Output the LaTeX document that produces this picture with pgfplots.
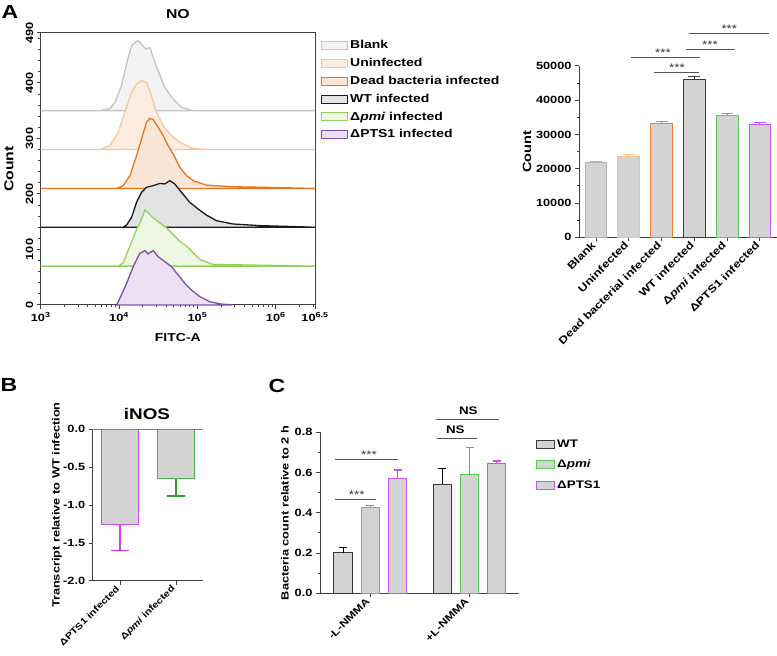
\documentclass[border=0pt]{standalone}
\usepackage{pgfplots}
\pgfplotsset{compat=1.18}
\usepackage{fontspec}
\setmainfont{Liberation Sans}[FakeStretch=1.22]
\newcommand\fs[1]{\bfseries\fontsize{#1}{#1}\selectfont}
\definecolor{axgray}{HTML}{404040}
\definecolor{barfill}{HTML}{D3D3D3}
\definecolor{cBl}{HTML}{C4C4C4}\definecolor{fBl}{HTML}{F3F3F3}
\definecolor{cUn}{HTML}{F7C79C}\definecolor{fUn}{HTML}{FDEDE0}
\definecolor{cDe}{HTML}{E8741E}\definecolor{fDe}{HTML}{FBE6D6}
\definecolor{cWT}{HTML}{1A1A1A}\definecolor{fWT}{HTML}{E3E3E3}
\definecolor{cPm}{HTML}{93D35A}\definecolor{fPm}{HTML}{EDF7E3}
\definecolor{cPT}{HTML}{7D4EA8}\definecolor{fPT}{HTML}{EBE1F3}
\definecolor{bBl}{HTML}{B5B5B5}\definecolor{bUn}{HTML}{F9C08A}
\definecolor{bDe}{HTML}{F47A2C}\definecolor{bWT}{HTML}{3A3A3A}
\definecolor{bPm}{HTML}{55D04E}\definecolor{bPT}{HTML}{C357F2}
\definecolor{bPT2}{HTML}{D24BEF}\definecolor{ePT2}{HTML}{D63CE6}
\definecolor{bPm2}{HTML}{4CAF50}\definecolor{ePm2}{HTML}{2E9E2E}
\definecolor{ePm3}{HTML}{3CC83C}
\definecolor{sig}{HTML}{555555}
\pgfplotsset{
  myaxis/.style={scale only axis, anchor=south west, clip=false, scaled ticks=false,
    axis line style={draw=axgray, line width=1pt},
    tick style={draw=axgray, line width=1pt},
    tick align=outside, major tick length=4bp, minor tick length=2.5bp,
    tick label style={font=\fs{10.5}},
    label style={font=\fs{12}},
    title style={font=\fs{13}}},
  boxleg/.style={legend image code/.code={\draw[##1, line width=1pt] (0bp,-4bp) rectangle (#1,4bp);}},
}
\begin{document}
\begin{tikzpicture}[x=1bp,y=1bp]
\useasboundingbox (0,0) rectangle (777,656);

% ---------------- Panel A histogram ----------------
\begin{axis}[myaxis, at={(40.7bp,351bp)}, width=274.3bp, height=272bp,
  xmin=3, xmax=6.5, ymin=0, ymax=490,
  xtick pos=bottom, ytick pos=left,
  xtick={3,4,5,6,6.5},
  xticklabels={10\textsuperscript{3},10\textsuperscript{4},10\textsuperscript{5},10\textsuperscript{6},10\textsuperscript{6.5}},
  minor xtick={3.301,3.477,3.602,3.699,3.778,3.845,3.903,3.954,4.301,4.477,4.602,4.699,4.778,4.845,4.903,4.954,5.301,5.477,5.602,5.699,5.778,5.845,5.903,5.954,6.301,6.477},
  ytick={0,100,200,300,400,490}, yticklabels={0,100,200,300,400,490},
  minor ytick={20,40,60,80,120,140,160,180,220,240,260,280,320,340,360,380,420,440,460,480},
  yticklabel style={rotate=90, anchor=south},
  title={NO}, title style={at={(axis description cs:0.5,1.048)}, anchor=center},
  xlabel={FITC-A}, xlabel style={at={(axis description cs:0.5,-0.121)}, anchor=center, font=\fs{11.5}},
  ylabel={Count}, ylabel style={at={(axis description cs:-0.1156,0.5)}, anchor=center, font=\fs{13}},
  boxleg=26bp, legend cell align=left,
  legend style={at={(axis description cs:1.011,0.99)}, anchor=north west, draw=none, fill=none,
    font=\fs{11.5}, row sep=2.3bp, nodes={inner sep=2bp, text height=9bp, text depth=2.5bp}},
]
\addplot[draw=cBl, fill=fBl, line width=1.3pt] coordinates {(3,350)(3.756,350)(3.883,354)(3.947,365)(4.03,395)(4.117,446)(4.16,467)(4.20,473)(4.244,476)(4.287,470)(4.342,461)(4.393,464)(4.435,446)(4.499,422)(4.584,392)(4.69,371)(4.796,356)(4.945,350)(6.5,350)} -- cycle;
\addlegendentry{Blank}
\addplot[draw=cUn, fill=fUn, line width=1.3pt] coordinates {(3,280)(3.76,280)(3.883,287)(3.99,311)(4.074,347)(4.16,383)(4.223,398)(4.287,404)(4.35,401)(4.414,377)(4.478,347)(4.563,323)(4.648,308)(4.775,293)(4.945,282)(5.115,280)(6.5,280)} -- cycle;
\addlegendentry{Uninfected}
\addplot[draw=cDe, fill=fDe, line width=1.3pt] coordinates {(3,210)(3.97,210)(4.053,215)(4.138,233)(4.223,269)(4.287,299)(4.35,329)(4.393,336)(4.435,334)(4.499,320)(4.563,305)(4.626,287)(4.69,272)(4.775,248)(4.86,233)(4.945,224)(5.115,216)(5.45,213)(5.88,212)(6.5,210)} -- cycle;
\addlegendentry{Dead bacteria infected}
\addplot[draw=cWT, fill=fWT, line width=1.3pt] coordinates {(3,140)(4.05,140)(4.096,144)(4.16,158)(4.223,185)(4.287,203)(4.35,212)(4.435,215)(4.52,219)(4.584,218)(4.648,224)(4.711,218)(4.796,203)(4.902,185)(5.008,173)(5.115,162)(5.24,152)(5.45,146)(5.79,143)(6.3,141)(6.5,140)} -- cycle;
\addlegendentry{WT infected}
\addplot[draw=cPm, fill=fPm, line width=1.3pt] coordinates {(3,70)(3.99,70)(4.053,76)(4.138,106)(4.223,136)(4.287,154)(4.33,171)(4.37,166)(4.435,157)(4.52,148)(4.605,139)(4.69,127)(4.775,115)(4.86,106)(4.924,97)(5.03,82)(5.2,73)(5.667,72)(6.5,70)} -- cycle;
\addlegendentry{Δ\textit{pmi} infected}
\addplot[draw=cPT, fill=fPT, line width=1.3pt] coordinates {(3.968,0)(4.01,12)(4.096,39)(4.18,69)(4.265,93)(4.33,98)(4.37,92)(4.435,98)(4.499,87)(4.584,78)(4.67,69)(4.754,54)(4.84,39)(4.924,27)(5.03,15)(5.157,6)(5.285,2)(5.45,0)} -- cycle;
\addlegendentry{ΔPTS1 infected}
\end{axis}

% ---------------- Panel A bar chart ----------------
\begin{axis}[myaxis, at={(579bp,418.7bp)}, width=198bp, height=171.3bp,
  xmin=-0.52, xmax=5.52, ymin=0, ymax=50000,
  axis x line*=bottom, axis y line*=left,
  ytick={0,10000,20000,30000,40000,50000}, yticklabels={0,10000,20000,30000,40000,50000},
  minor ytick={5000,15000,25000,35000,45000},
  xtick={0,1,2,3,4,5},
  xticklabels={Blank,Uninfected,Dead bacterial infected,WT infected,Δ\textit{pmi} infected,ΔPTS1 infected},
  xticklabel style={rotate=45, anchor=east, font=\fs{10.5}},
  ylabel={Count}, ylabel style={at={(axis description cs:-0.263,0.5)}, anchor=center},
  ybar, bar width=21.7bp,
]
\addplot[bar shift=0pt, fill=barfill, draw=bBl, line width=1pt, error bars/.cd, y dir=plus, y explicit, error bar style={draw=bBl, line width=1pt}, error mark options={rotate=90, draw=bBl, mark size=6bp, line width=1pt}] coordinates {(0,21800) +- (0,400)};
\addplot[bar shift=0pt, fill=barfill, draw=bUn, line width=1pt, error bars/.cd, y dir=plus, y explicit, error bar style={draw=bUn, line width=1pt}, error mark options={rotate=90, draw=bUn, mark size=6bp, line width=1pt}] coordinates {(1,23700) +- (0,350)};
\addplot[bar shift=0pt, fill=barfill, draw=bDe, line width=1pt, error bars/.cd, y dir=plus, y explicit, error bar style={draw=bDe, line width=1pt}, error mark options={rotate=90, draw=bDe, mark size=6bp, line width=1pt}] coordinates {(2,33300) +- (0,400)};
\addplot[bar shift=0pt, fill=barfill, draw=bWT, line width=1pt, error bars/.cd, y dir=plus, y explicit, error bar style={draw=bWT, line width=1pt}, error mark options={rotate=90, draw=bWT, mark size=6bp, line width=1pt}] coordinates {(3,46200) +- (0,600)};
\addplot[bar shift=0pt, fill=barfill, draw=bPm, line width=1pt, error bars/.cd, y dir=plus, y explicit, error bar style={draw=bPm, line width=1pt}, error mark options={rotate=90, draw=bPm, mark size=6bp, line width=1pt}] coordinates {(4,35600) +- (0,500)};
\addplot[bar shift=0pt, fill=barfill, draw=bPT, line width=1pt, error bars/.cd, y dir=plus, y explicit, error bar style={draw=bPT, line width=1pt}, error mark options={rotate=90, draw=bPT, mark size=6bp, line width=1pt}] coordinates {(5,32900) +- (0,500)};
\end{axis}

% ---------------- Panel B ----------------
\begin{axis}[myaxis, at={(92.7bp,75bp)}, width=110.3bp, height=151.7bp,
  xmin=-0.49, xmax=1.48, ymin=-2, ymax=0,
  axis x line*=bottom, axis y line*=left,
  ytick={-2,-1.5,-1,-0.5,0}, yticklabels={-2.0,-1.5,-1.0,-0.5,0.0},
  xtick={0,1}, xticklabels={ΔPTS1 infected,Δ\textit{pmi} infected},
  xticklabel style={rotate=45, anchor=east, font=\fs{9}},
  title={iNOS}, title style={at={(axis description cs:0.492,1.061)}, anchor=center, font=\fs{15.5}},
  ylabel={Transcript relative to WT infection}, ylabel style={at={(axis description cs:-0.324,0.5)}, anchor=center, font=\fs{10.5}},
  ybar, bar width=37.3bp,
]
\draw[draw=gray, line width=1.3pt] (axis cs:-0.49,0) -- (axis cs:1.48,0);
\addplot[bar shift=0pt, fill=barfill, draw=bPT2, line width=1pt, error bars/.cd, y dir=minus, y explicit, error bar style={draw=ePT2, line width=1.3pt}, error mark options={rotate=90, draw=ePT2, mark size=9bp, line width=1.3pt}] coordinates {(0,-1.25) +- (0,0.35)};
\addplot[bar shift=0pt, fill=barfill, draw=bPm2, line width=1pt, error bars/.cd, y dir=minus, y explicit, error bar style={draw=ePm2, line width=1.3pt}, error mark options={rotate=90, draw=ePm2, mark size=9bp, line width=1.3pt}] coordinates {(1,-0.65) +- (0,0.23)};
\end{axis}

% ---------------- Panel C ----------------
\begin{axis}[myaxis, at={(320bp,62.7bp)}, width=199.3bp, height=161bp,
  xmin=-0.507, xmax=1.502, ymin=0, ymax=0.8,
  axis x line*=bottom, axis y line*=left,
  ytick={0,0.2,0.4,0.6,0.8}, yticklabels={0.0,0.2,0.4,0.6,0.8},
  minor ytick={0.1,0.3,0.5,0.7},
  xtick={0,1}, xticklabels={-L-NMMA,+L-NMMA},
  xticklabel style={rotate=45, anchor=east, font=\fs{10}},
  ylabel={Bacteria count relative to 2 h}, ylabel style={at={(axis description cs:-0.176,0.5)}, anchor=center, font=\fs{10.5}},
  ybar=8.9bp, bar width=18.3bp,
  boxleg=18bp, legend cell align=left,
  legend style={at={(axis description cs:1.069,0.985)}, anchor=north west, draw=none, fill=none,
    font=\fs{11}, row sep=5.5bp, nodes={inner sep=2bp, text height=8.5bp, text depth=2.5bp}},
]
\addplot[fill=barfill, draw=bWT, line width=1pt, error bars/.cd, y dir=plus, y explicit, error bar style={draw=black, line width=1.2pt}, error mark options={rotate=90, draw=black, mark size=4bp, line width=1.2pt}] coordinates {(0,0.202) +- (0,0.025) (1,0.541) +- (0,0.080)};
\addlegendentry{WT}
\addplot[fill=barfill, draw=bPm, line width=1pt, error bars/.cd, y dir=plus, y explicit, error bar style={draw=ePm3, line width=1.2pt}, error mark options={rotate=90, draw=ePm3, mark size=4bp, line width=1.2pt}] coordinates {(0,0.427) +- (0,0.008) (1,0.589) +- (0,0.136)};
\addlegendentry{Δ\textit{pmi}}
\addplot[fill=barfill, draw=bPT, line width=1pt, error bars/.cd, y dir=plus, y explicit, error bar style={draw=bPT2, line width=1.2pt}, error mark options={rotate=90, draw=bPT2, mark size=4bp, line width=1.2pt}] coordinates {(0,0.568) +- (0,0.045) (1,0.647) +- (0,0.010)};
\addlegendentry{ΔPTS1}
\end{axis}

% ---------------- annotations ----------------
\begin{scope}[sig, line width=1pt]
\draw (630.7,598.7) -- (700,598.7);
\draw (654,583.7) -- (699.3,583.7);
\draw (686,606) -- (735,606);
\draw (688.7,622.3) -- (769.3,622.3);
\draw (335,156) -- (376,156);
\draw (335,196.7) -- (398.3,196.7);
\draw (436.7,217.7) -- (477.3,217.7);
\draw (435.7,236.7) -- (499.3,236.7);
\end{scope}
\begin{scope}[every node/.style={font=\fontsize{11}{11}\selectfont, text=black!80, inner sep=0pt, anchor=base}]
\node at (663,599.7) {***};
\node at (677,584.7) {***};
\node at (710,607) {***};
\node at (729.3,623.3) {***};
\node at (356.7,157) {***};
\node at (369,197.7) {***};
\end{scope}
\node[font=\fs{11}] at (455.3,226) {NS};
\node[font=\fs{11}] at (468.3,245) {NS};

\node[font=\fs{19}] at (10,644) {A};
\node[font=\fs{19}] at (9,271) {B};
\node[font=\fs{19}] at (277,270) {C};
\end{tikzpicture}
\end{document}
